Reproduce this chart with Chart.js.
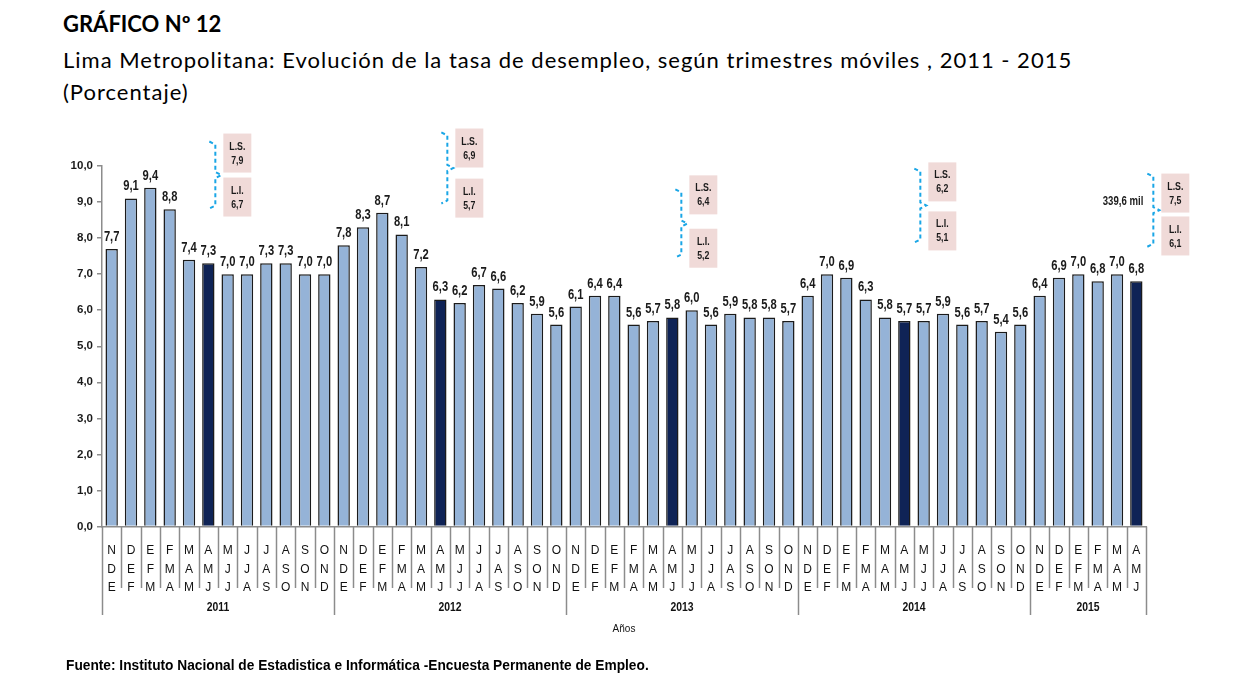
<!DOCTYPE html>
<html>
<head>
<meta charset="utf-8">
<script src="https://cdn.jsdelivr.net/npm/chart.js@4.4.0/dist/chart.umd.min.js"></script>
<style>
    html, body { margin: 0; padding: 0; background: #fff; }
    body { width: 1240px; height: 692px; position: relative; overflow: hidden; }
    #rateChart { position: absolute; left: 0; top: 0; }
    .head { position: absolute; left: 63px; font-family: Lato, "Open Sans", sans-serif; color: #000; white-space: nowrap; line-height: 1; }
    #t1 { top: 13px; font-size: 22px; font-weight: bold; }
    #t2 { top: 49px; font-size: 22px; letter-spacing: 1px; }
    #t3 { top: 81px; font-size: 22px; letter-spacing: 1px; }
    #source { position: absolute; left: 66px; top: 656px; font-family: "Liberation Sans", Arial, sans-serif; font-weight: bold; font-size: 15px; color: #000; white-space: nowrap; transform: scaleX(0.915); transform-origin: 0 0; }
</style>
</head>
<body>
<div class="head" id="t1">GRÁFICO Nº 12</div>
<div class="head" id="t2">Lima Metropolitana: Evolución de la tasa de desempleo, según trimestres móviles , 2011 - 2015</div>
<div class="head" id="t3">(Porcentaje)</div>
<canvas id="rateChart" width="1240" height="692"></canvas>
<div id="source">Fuente: Instituto Nacional de Estadistica e Informática -Encuesta Permanente de Empleo.</div>

<script>
// ---- data ----
const years = ["2011", "2012", "2013", "2014", "2015"];
const quarters = ["NDE", "DEF", "EFM", "FMA", "MAM", "AMJ", "MJJ", "JJA", "JAS", "ASO", "SON", "OND"];

const rate2011 = [7.7, 9.1, 9.4, 8.8, 7.4, 7.3, 7.0, 7.0, 7.3, 7.3, 7.0, 7.0];
const rate2012 = [7.8, 8.3, 8.7, 8.1, 7.2, 6.3, 6.2, 6.7, 6.6, 6.2, 5.9, 5.6];
const rate2013 = [6.1, 6.4, 6.4, 5.6, 5.7, 5.8, 6.0, 5.6, 5.9, 5.8, 5.8, 5.7];
const rate2014 = [6.4, 7.0, 6.9, 6.3, 5.8, 5.7, 5.7, 5.9, 5.6, 5.7, 5.4, 5.6];
const rate2015 = [6.4, 6.9, 7.0, 6.8, 7.0, 6.8];

const yTicks = [0, 1, 2, 3, 4, 5, 6, 7, 8, 9, 10];

// confidence limits shown beside each AMJ bar
const limitSup = [7.9, 6.9, 6.4, 6.2, 7.5];
const limitInf = [6.7, 5.7, 5.2, 5.1, 6.1];
const lastNote = "339,6 mil";

const yearRates = [rate2011, rate2012, rate2013, rate2014, rate2015];
const rates = yearRates.flat();
const categories = yearRates.flatMap(r => quarters.slice(0, r.length));
const highlight = "AMJ";

const LIGHT = "#95b3d7";
const DARK = "#0f2356";
const SANS = '"Liberation Sans", Arial, sans-serif';
const SQUEEZE = 0.8;   // fake Arial Narrow

function fmt(v){
    return v.toFixed(1).replace(".", ",");
}

function narrowText(ctx, text, x, y){
    ctx.save();
    ctx.translate(x, y);
    ctx.scale(SQUEEZE, 1);
    ctx.fillText(text, 0, 0);
    ctx.restore();
}

// value labels above bars
const valueLabels = {
    id: "valueLabels",
    afterDatasetsDraw(chart){
        const ctx = chart.ctx;
        const meta = chart.getDatasetMeta(0);
        ctx.save();
        ctx.font = "bold 14px " + SANS;
        ctx.fillStyle = "#1a1a1a";
        ctx.textAlign = "center";
        ctx.textBaseline = "alphabetic";
        meta.data.forEach((bar, i) => {
            narrowText(ctx, fmt(rates[i]), bar.x, bar.y - 8);
        });
        ctx.restore();
    }
};

// separators under the axis, year labels
const yearAxis = {
    id: "yearAxis",
    afterDraw(chart){
        const ctx = chart.ctx;
        const xs = chart.scales.x;
        const area = chart.chartArea;
        const n = categories.length;
        const edge = i => {
            if (i === 0) return area.left;
            if (i === n) return area.right;
            return (xs.getPixelForValue(i - 1) + xs.getPixelForValue(i)) / 2;
        };
        const yearStarts = [];
        let k = 0;
        yearRates.forEach(r => { yearStarts.push(k); k += r.length; });
        yearStarts.push(n);

        ctx.save();
        ctx.strokeStyle = "#8c8c8c";
        ctx.lineWidth = 1.5;
        for (let i = 0; i <= n; i++) {
            const x = Math.round(edge(i)) + 0.5;
            const long = yearStarts.includes(i);
            ctx.beginPath();
            ctx.moveTo(x, area.bottom);
            ctx.lineTo(x, long ? 615 : 588);
            ctx.stroke();
        }
        ctx.font = "bold 13px " + SANS;
        ctx.fillStyle = "#111";
        ctx.textAlign = "center";
        ctx.textBaseline = "middle";
        years.forEach((y, j) => {
            const x = (edge(yearStarts[j]) + edge(yearStarts[j + 1])) / 2;
            narrowText(ctx, y, x, 607);
        });
        ctx.restore();
    }
};

// brackets with L.S. / L.I. boxes
const limitNotes = {
    id: "limitNotes",
    afterDraw(chart){
        const ctx = chart.ctx;
        const xs = chart.scales.x;
        const ys = chart.scales.y;
        const spots = categories.map((c, i) => c === highlight ? i : -1).filter(i => i >= 0);
        // placement: bracket x offset, bracket top/bottom and box tops in axis units
        const place = [
            { dx: 7,  top: 10.68, bot: 8.82, ls: 10.90, li: 9.68 },
            { dx: 7,  top: 10.93, bot: 8.96, ls: 11.04, li: 9.65 },
            { dx: 9,  top: 9.35,  bot: 7.46, ls: 9.74,  li: 8.26 },
            { dx: 16, top: 9.93,  bot: 7.88, ls: 10.10, li: 8.74 },
            { dx: 17, top: 9.79,  bot: 7.76, ls: 9.79,  li: 8.60 }
        ];
        ctx.save();
        spots.forEach((idx, j) => {
            const p = place[j];
            const bx = xs.getPixelForValue(idx) + p.dx;
            const top = ys.getPixelForValue(p.top);
            const bot = ys.getPixelForValue(p.bot);
            const mid = (top + bot) / 2;

            ctx.strokeStyle = "#1aa6e6";
            ctx.lineWidth = 2;
            ctx.setLineDash([4, 3]);
            ctx.beginPath();
            ctx.moveTo(bx - 6, top);
            ctx.lineTo(bx, top + 3);
            ctx.lineTo(bx, mid - 3);
            ctx.lineTo(bx + 6, mid);
            ctx.lineTo(bx, mid + 3);
            ctx.lineTo(bx, bot - 3);
            ctx.lineTo(bx - 6, bot);
            ctx.stroke();
            ctx.setLineDash([]);

            const boxes = [
                { y: ys.getPixelForValue(p.ls), t: "L.S.", v: limitSup[j] },
                { y: ys.getPixelForValue(p.li), t: "L.I.", v: limitInf[j] }
            ];
            boxes.forEach(b => {
                ctx.fillStyle = "#f0dad8";
                ctx.fillRect(bx + 8, b.y, 28, 39);
                ctx.fillStyle = "#1a1a1a";
                ctx.font = "bold 11px " + SANS;
                ctx.textAlign = "center";
                ctx.textBaseline = "middle";
                narrowText(ctx, b.t, bx + 22, b.y + 13);
                narrowText(ctx, fmt(b.v), bx + 22, b.y + 27);
            });

            if (j === spots.length - 1) {
                ctx.font = "bold 12px " + SANS;
                ctx.textAlign = "right";
                narrowText(ctx, lastNote, bx - 10, mid - 8);
            }
        });
        ctx.restore();
    }
};

const ctx = document.getElementById("rateChart").getContext("2d");

new Chart(ctx, {
    type: "bar",
    data: {
        labels: categories.map(c => c.split("")),
        datasets: [{
            data: rates,
            backgroundColor: categories.map(c => c === highlight ? DARK : LIGHT),
            borderColor: "#1b1b1b",
            borderWidth: 1.5,
            barPercentage: 0.64,
            categoryPercentage: 1
        }]
    },
    options: {
        responsive: false,
        animation: false,
        layout: { padding: { left: 0, right: 94, top: 166, bottom: 57 } },
        plugins: {
            legend: { display: false },
            tooltip: { enabled: false }
        },
        scales: {
            x: {
                grid: { display: false },
                border: { display: true, color: "#8c8c8c", width: 1.5 },
                ticks: {
                    autoSkip: false,
                    maxRotation: 0,
                    padding: 7,
                    color: "#111",
                    font: { family: SANS, size: 12, lineHeight: 1.54 }
                },
                title: {
                    display: true,
                    text: "Años",
                    color: "#111",
                    padding: 0,
                    font: { family: SANS, size: 10 }
                },
                afterFit(scale){ scale.height = 108.5; }
            },
            y: {
                min: 0,
                max: 10,
                afterBuildTicks(scale){ scale.ticks = yTicks.map(v => ({ value: v })); },
                ticks: {
                    padding: 4,
                    color: "#1a1a1a",
                    font: { family: SANS, size: 11.5, weight: "bold" },
                    callback: v => fmt(v)
                },
                grid: { drawOnChartArea: false, drawTicks: true, tickLength: 5, color: "#8c8c8c", lineWidth: 1.5 },
                border: { color: "#8c8c8c", width: 1.5 },
                afterFit(scale){ scale.width = 102; }
            }
        }
    },
    plugins: [valueLabels, yearAxis, limitNotes]
});
</script>
</body>
</html>
